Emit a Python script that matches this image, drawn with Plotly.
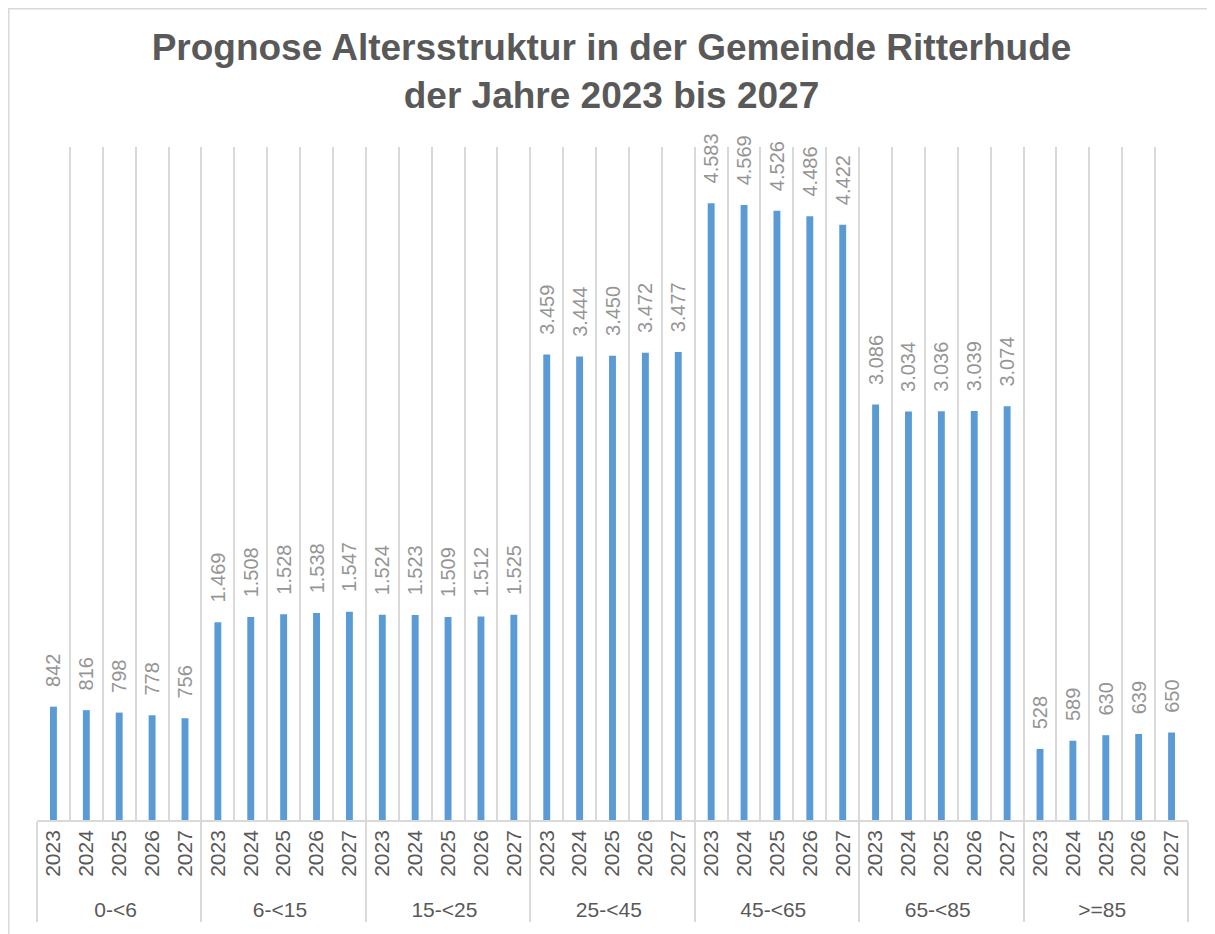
import plotly.graph_objects as go

groups = ["0-<6", "6-<15", "15-<25", "25-<45", "45-<65", "65-<85", ">=85"]
years = ["2023", "2024", "2025", "2026", "2027"]
values = {
    "0-<6": [842, 816, 798, 778, 756],
    "6-<15": [1469, 1508, 1528, 1538, 1547],
    "15-<25": [1524, 1523, 1509, 1512, 1525],
    "25-<45": [3459, 3444, 3450, 3472, 3477],
    "45-<65": [4583, 4569, 4526, 4486, 4422],
    "65-<85": [3086, 3034, 3036, 3039, 3074],
    ">=85": [528, 589, 630, 639, 650],
}
title_text = "Prognose Altersstruktur in der Gemeinde Ritterhude<br>der Jahre 2023 bis 2027"

x_outer, x_inner, y_vals, labels = [], [], [], []
for g in groups:
    for yr, v in zip(years, values[g]):
        x_outer.append(g)
        x_inner.append(yr)
        y_vals.append(v)
        labels.append("\u00a0\u00a0\u00a0" + f"{v:,}".replace(",", "."))

FONT = "Liberation Sans, Arial, sans-serif"
GRID = "#d9d9d9"
W, H = 1207, 926
L, R, T, B = 29, 27, 139, 114

fig = go.Figure(go.Bar(
    x=[x_outer, x_inner],
    y=y_vals,
    text=labels,
    textposition="outside",
    textangle=-90,
    constraintext="none",
    cliponaxis=False,
    textfont=dict(family=FONT, size=20, color="#959595"),
    marker=dict(color="#5B9BD5", line=dict(width=0)),
    hoverinfo="x+y",
))

pw = W - L - R
ph = H - T - B
fig.update_layout(
    width=W, height=H,
    margin=dict(l=L, r=R, t=T, b=B),
    paper_bgcolor="white", plot_bgcolor="white",
    bargap=0.79,
    showlegend=False,
    title=dict(text=title_text, x=0.5, xanchor="center", y=1 - 52 / H, yanchor="middle",
               font=dict(family=FONT, size=37, color="#595959", weight="bold")),
    xaxis=dict(
        type="multicategory",
        tickson="boundaries",
        showgrid=True, gridcolor=GRID, gridwidth=1.5,
        showline=True, linecolor=GRID, linewidth=1.5,
        ticks="", tickangle=-90,
        tickfont=dict(family=FONT, size=21, color="#595959"),
        showdividers=True, dividercolor=GRID, dividerwidth=1.5,
    ),
    yaxis=dict(range=[0, 5000], showgrid=False, showticklabels=False, zeroline=False,
               showline=False, ticks=""),
    shapes=[dict(type="rect", xref="paper", yref="paper",
                 x0=(0.8 - L) / pw, x1=1.3, y0=-0.5, y1=(H - B - 0.8) / ph,
                 line=dict(color=GRID, width=1.5), fillcolor="rgba(0,0,0,0)", layer="below")],
)

fig.write_html("out.html")
